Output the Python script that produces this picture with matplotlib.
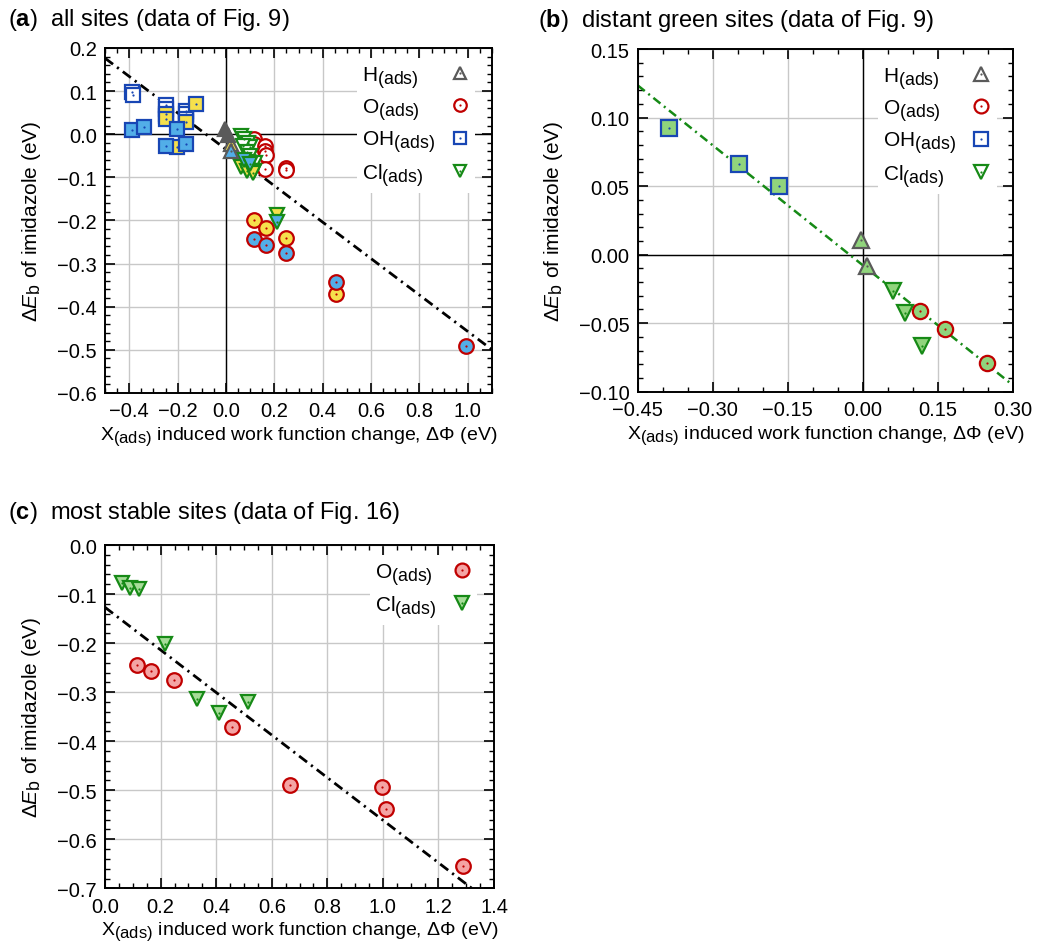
import matplotlib
matplotlib.use('Agg')
import matplotlib.pyplot as plt
import matplotlib._mathtext as mathtext_internal
from matplotlib.lines import Line2D
from matplotlib.ticker import MultipleLocator, FuncFormatter

plt.rcParams['font.family'] = ['Liberation Sans', 'DejaVu Sans']
plt.rcParams['mathtext.fontset'] = 'custom'
plt.rcParams['mathtext.rm'] = 'Liberation Sans'
plt.rcParams['mathtext.it'] = 'Liberation Sans:italic'
plt.rcParams['mathtext.bf'] = 'Liberation Sans:bold'
# subscripts in the original are only slightly smaller than the main text
mathtext_internal.SHRINK_FACTOR = 0.85

# ---------------- data: panel (a) all sites ----------------
h_gray_x = [-0.003, 0.008]
h_gray_y = [0.011, -0.002]
h_yel_x = [0.02]
h_yel_y = [-0.022]
h_blue_x = [0.02]
h_blue_y = [-0.038]

o_open_x = [0.114, 0.114, 0.16, 0.16, 0.164, 0.16, 0.249, 0.247]
o_open_y = [-0.012, -0.022, -0.028, -0.038, -0.048, -0.08, -0.078, -0.084]
o_yel_x = [0.117, 0.165, 0.247, 0.453]
o_yel_y = [-0.200, -0.218, -0.241, -0.370]
o_blue_x = [0.117, 0.165, 0.247, 0.453, 0.994]
o_blue_y = [-0.244, -0.256, -0.275, -0.343, -0.492]

oh_open_x = [-0.39, -0.386, -0.247, -0.247, -0.247, -0.167, -0.167, -0.167]
oh_open_y = [0.097, 0.092, 0.068, 0.058, 0.042, 0.055, 0.046, 0.036]
oh_yel_x = [-0.247, -0.247, -0.123, -0.167, -0.203]
oh_yel_y = [0.048, 0.035, 0.069, 0.028, -0.029]
oh_blue_x = [-0.388, -0.337, -0.203, -0.247, -0.167]
oh_blue_y = [0.009, 0.017, 0.011, -0.027, -0.023]

cl_open_x = [0.06, 0.075, 0.09, 0.10, 0.07, 0.085, 0.10, 0.118, 0.09, 0.115]
cl_open_y = [-0.003, -0.010, -0.020, -0.030, -0.027, -0.042, -0.050, -0.067, -0.065, -0.085]
cl_yel_x = [0.06, 0.085, 0.11, 0.212]
cl_yel_y = [-0.075, -0.085, -0.090, -0.187]
cl_blue_x = [0.075, 0.10, 0.212]
cl_blue_y = [-0.060, -0.070, -0.204]

fit_a = (-0.4225, -0.035)

# ---------------- data: panel (b) distant green sites ----------------
b_h_x = [-0.003, 0.008]
b_h_y = [0.0109, -0.0085]
b_o_x = [0.1145, 0.1644, 0.2474]
b_o_y = [-0.0413, -0.0545, -0.0788]
b_oh_x = [-0.388, -0.2475, -0.1677]
b_oh_y = [0.0924, 0.0659, 0.0501]
b_cl_x = [0.060, 0.0846, 0.1185]
b_cl_y = [-0.0265, -0.0423, -0.0666]

fit_b = (-0.2917, -0.0078)

# ---------------- data: panel (c) most stable sites ----------------
c_o_x = [0.116, 0.164, 0.249, 0.456, 0.666, 0.996, 1.010, 1.290]
c_o_y = [-0.244, -0.256, -0.275, -0.370, -0.489, -0.493, -0.538, -0.654]
c_cl_x = [0.06, 0.09, 0.122, 0.216, 0.332, 0.41, 0.513]
c_cl_y = [-0.077, -0.087, -0.090, -0.202, -0.313, -0.342, -0.320]

fit_c = (-0.434, -0.127)

# colours
RED = '#c00000'
BLUE = '#1846b4'
GREEN = '#168a16'
GRAY = '#5a5a5a'
YEL = '#f6e04c'
LBLUE = '#52aee8'
LGREEN = '#90d47c'
PINK = '#f4a4a4'
LGREEN_C = '#a6dc98'

XLABEL = 'X$_{\\mathrm{(ads)}}$ induced work function change, \u0394\u03a6 (eV)'
YLABEL = '\u0394$\\mathit{E}_{\\mathrm{b}}$ of imidazole (eV)'
LAB_H = 'H$_{\\mathrm{(ads)}}$'
LAB_O = 'O$_{\\mathrm{(ads)}}$'
LAB_OH = 'OH$_{\\mathrm{(ads)}}$'
LAB_CL = 'Cl$_{\\mathrm{(ads)}}$'

fig = plt.figure(figsize=(10.37, 9.53), dpi=100)

DASHDOT = (0, (3.6, 1.8, 0.8, 1.8))
legends = []


def minus_fmt(fmt):
    return FuncFormatter(lambda v, p: (fmt % v).replace('-', '\u2212'))


def pts(ax, x, y, marker, ms, fc, ec, z=3):
    ax.plot(x, y, ls='none', marker=marker, ms=ms, mfc=fc, mec=ec, mew=1.6, zorder=z)
    ax.plot(x, y, ls='none', marker='o', ms=1.6, mfc=ec, mec=ec, mew=0, zorder=z)


def style(ax, xmaj, xmin, ymaj, ymin, xfmt, yfmt):
    ax.xaxis.set_major_locator(MultipleLocator(xmaj))
    ax.xaxis.set_minor_locator(MultipleLocator(xmin))
    ax.yaxis.set_major_locator(MultipleLocator(ymaj))
    ax.yaxis.set_minor_locator(MultipleLocator(ymin))
    ax.xaxis.set_major_formatter(minus_fmt(xfmt))
    ax.yaxis.set_major_formatter(minus_fmt(yfmt))
    ax.tick_params(which='both', direction='in', top=True, right=True, labelsize=14.5)
    ax.tick_params(which='major', length=7, width=1.2, pad=6)
    ax.tick_params(which='minor', length=3.5, width=1.0)
    ax.grid(True, which='major', color='#c8c8c8', lw=1.0)
    for s in ax.spines.values():
        s.set_linewidth(1.4)
    ax.set_xlabel(XLABEL, fontsize=14, labelpad=3)
    ax.set_ylabel(YLABEL, fontsize=15, labelpad=10)


def handle(marker, ms, fc, ec):
    m = Line2D([], [], ls='none', marker=marker, ms=ms, mfc=fc, mec=ec, mew=1.6)
    d = Line2D([], [], ls='none', marker='o', ms=1.6, mfc=ec, mec=ec, mew=0)
    return (m, d)


def legend(ax, hs, labels):
    lg = ax.legend(hs, labels, loc='upper right', bbox_to_anchor=(0.984, 1.0),
                   markerfirst=False, fontsize=15,
                   frameon=True, framealpha=1, edgecolor='none', fancybox=False,
                   handlelength=1.0, handletextpad=0.7, labelspacing=0.31,
                   borderpad=0.25, borderaxespad=0.5)
    lg.set_zorder(2.2)
    legends.append(lg)


def align_labels_left(lg):
    # labels left aligned, markers kept in one column at the right
    r = fig.canvas.get_renderer()
    ws = [t.get_window_extent(r).width for t in lg.get_texts()]
    mx = max(ws)
    for col in lg._legend_handle_box.get_children():
        col.align = 'left'
        for item, w in zip(col.get_children(), ws):
            item.sep += (mx - w) * 72.0 / fig.dpi


# ---------------- panel (a) ----------------
ax = fig.add_axes([0.1013, 0.5866, 0.3732, 0.362])
ax.set_xlim(-0.5, 1.1)
ax.set_ylim(-0.6, 0.2)
ax.axhline(0, color='black', lw=1.0, zorder=1.8)
ax.axvline(0, color='black', lw=1.0, zorder=1.8)
xs = [-0.5, 1.1]
ax.plot(xs, [fit_a[0] * v + fit_a[1] for v in xs], color='black', lw=2,
        ls=DASHDOT, zorder=2.5)
pts(ax, oh_open_x, oh_open_y, 's', 10.5, 'white', BLUE)
pts(ax, oh_yel_x, oh_yel_y, 's', 10.5, YEL, BLUE)
pts(ax, oh_blue_x, oh_blue_y, 's', 10.5, LBLUE, BLUE)
pts(ax, o_open_x, o_open_y, 'o', 10.5, 'white', RED)
pts(ax, o_yel_x, o_yel_y, 'o', 10.5, YEL, RED)
pts(ax, o_blue_x, o_blue_y, 'o', 10.5, LBLUE, RED)
pts(ax, cl_open_x, cl_open_y, 'v', 10.5, 'white', GREEN)
pts(ax, cl_yel_x, cl_yel_y, 'v', 10.5, YEL, GREEN)
pts(ax, cl_blue_x, cl_blue_y, 'v', 10.5, LBLUE, GREEN)
pts(ax, h_yel_x, h_yel_y, '^', 10.5, YEL, GRAY)
pts(ax, h_blue_x, h_blue_y, '^', 10.5, LBLUE, GRAY)
pts(ax, h_gray_x, h_gray_y, '^', 10.5, GRAY, GRAY)
style(ax, 0.2, 0.05, 0.1, 0.02, '%.1f', '%.1f')
legend(ax, [handle('^', 9, 'white', GRAY), handle('o', 9, 'white', RED),
            handle('s', 8.5, 'white', BLUE), handle('v', 9, 'white', GREEN)],
       [LAB_H, LAB_O, LAB_OH, LAB_CL])

# ---------------- panel (b) ----------------
ax = fig.add_axes([0.615, 0.5879, 0.3619, 0.3596])
ax.set_xlim(-0.45, 0.30)
ax.set_ylim(-0.10, 0.15)
ax.axhline(0, color='black', lw=1.0, zorder=1.8)
ax.axvline(0, color='black', lw=1.0, zorder=1.8)
xs = [-0.45, 0.30]
ax.plot(xs, [fit_b[0] * v + fit_b[1] for v in xs], color=GREEN, lw=1.8,
        ls=DASHDOT, zorder=2.5)
pts(ax, b_oh_x, b_oh_y, 's', 11, LGREEN, BLUE)
pts(ax, b_h_x, b_h_y, '^', 11, LGREEN, GRAY)
pts(ax, b_cl_x, b_cl_y, 'v', 11, LGREEN, GREEN)
pts(ax, b_o_x, b_o_y, 'o', 11, LGREEN, RED)
style(ax, 0.15, 0.05, 0.05, 0.01, '%.2f', '%.2f')
legend(ax, [handle('^', 10, 'white', GRAY), handle('o', 10, 'white', RED),
            handle('s', 9.5, 'white', BLUE), handle('v', 10, 'white', GREEN)],
       [LAB_H, LAB_O, LAB_OH, LAB_CL])

# ---------------- panel (c) ----------------
ax = fig.add_axes([0.1013, 0.0668, 0.3751, 0.3602])
ax.set_xlim(0, 1.4)
ax.set_ylim(-0.7, 0.0)
xs = [0.0, 1.4]
ax.plot(xs, [fit_c[0] * v + fit_c[1] for v in xs], color='black', lw=2,
        ls=DASHDOT, zorder=2.5)
pts(ax, c_cl_x, c_cl_y, 'v', 10.5, LGREEN_C, GREEN)
pts(ax, c_o_x, c_o_y, 'o', 10.5, PINK, RED)
style(ax, 0.2, 0.05, 0.1, 0.02, '%.1f', '%.1f')
legend(ax, [handle('o', 10, PINK, RED), handle('v', 10, LGREEN_C, GREEN)],
       [LAB_O, LAB_CL])

# panel titles
fig.text(0.008, 0.979, '($\\mathbf{a}$)  all sites (data of Fig. 9)',
         fontsize=17, va='center')
fig.text(0.519, 0.979, '($\\mathbf{b}$)  distant green sites (data of Fig. 9)',
         fontsize=17, va='center')
fig.text(0.008, 0.462, '($\\mathbf{c}$)  most stable sites (data of Fig. 16)',
         fontsize=17, va='center')

fig.canvas.draw()
for lg in legends:
    align_labels_left(lg)

fig.savefig('out.png', dpi=100)
